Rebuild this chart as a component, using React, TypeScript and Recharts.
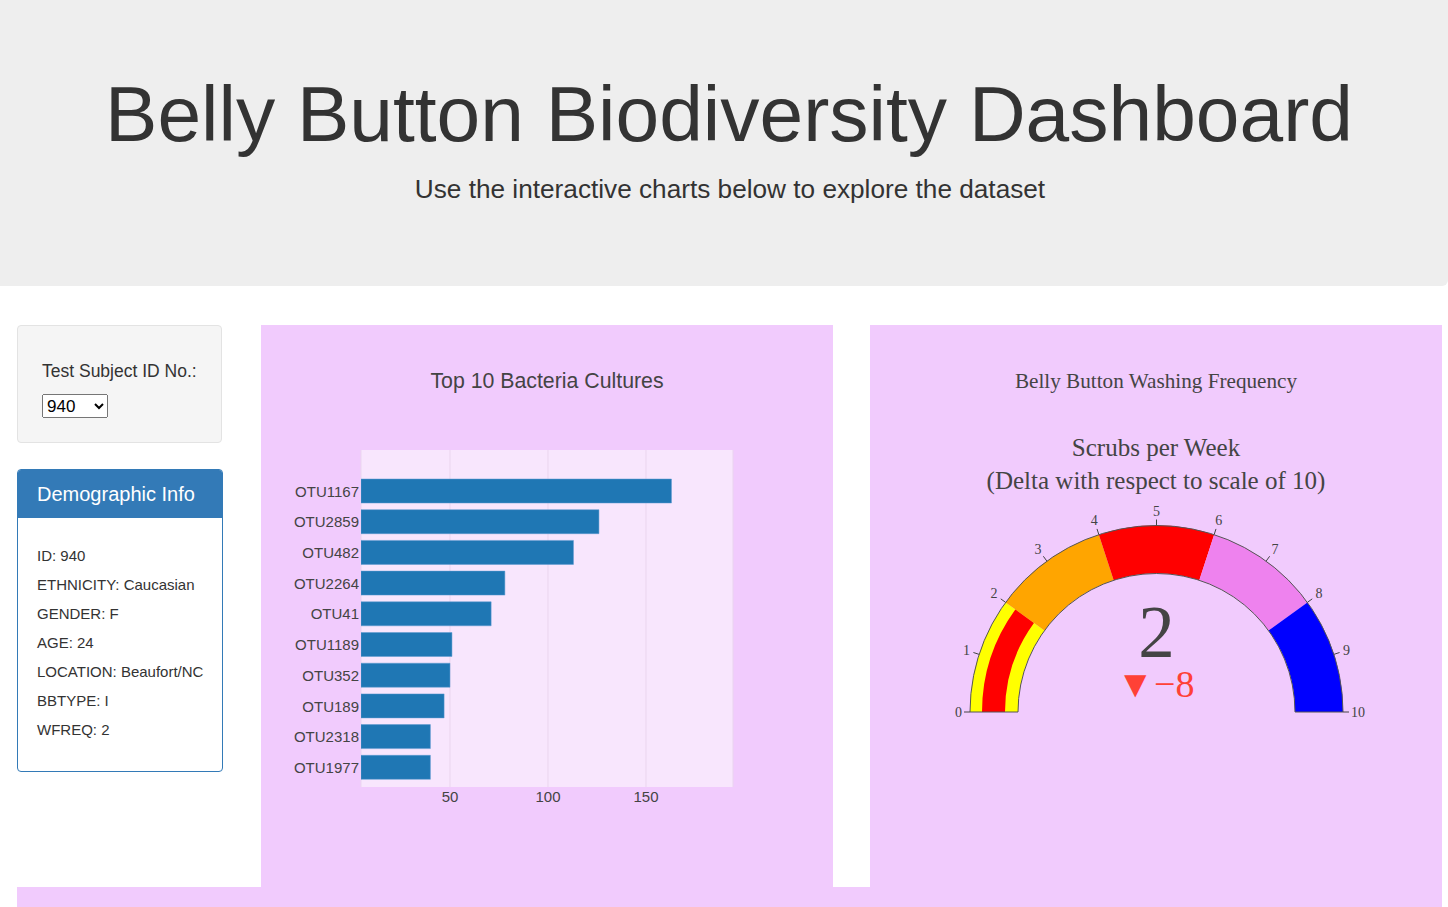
import React from 'react';
import {
  BarChart, Bar, XAxis, YAxis, CartesianGrid,
  PieChart, Pie, Cell, RadialBarChart, RadialBar, PolarAngleAxis,
} from 'recharts';

const otuLabels = ['OTU1167', 'OTU2859', 'OTU482', 'OTU2264', 'OTU41', 'OTU1189', 'OTU352', 'OTU189', 'OTU2318', 'OTU1977'];
const sampleValues = [163, 126, 113, 78, 71, 51, 50, 47, 40, 40];
const xTicks = [50, 100, 150];

const demoKeys = ['ID', 'ETHNICITY', 'GENDER', 'AGE', 'LOCATION', 'BBTYPE', 'WFREQ'];
const demoValues = ['940', 'Caucasian', 'F', '24', 'Beaufort/NC', 'I', '2'];

const wfreq = 2;
const gaugeMax = 10;
const gaugeTicks = [0, 1, 2, 3, 4, 5, 6, 7, 8, 9, 10];
const stepSizes = [2, 2, 2, 2, 2];
const stepColors = ['yellow', 'orange', 'red', 'violet', 'blue'];

const SANS = '"Liberation Sans", Arial, Helvetica, sans-serif';
const SERIF = '"Liberation Serif", "Times New Roman", serif';
const PINK = '#f1cbfd';
const NO_MARGIN = { top: 0, right: 0, bottom: 0, left: 0 };

const barData = otuLabels.map((otu, i) => ({ otu, value: sampleValues[i] }));
const stepData = stepSizes.map((v, i) => ({ name: `step${i}`, value: v }));
const valueData = [{ name: 'wfreq', value: wfreq }, { name: 'rest', value: gaugeMax - wfreq }];

// gauge geometry (inside its 572x562 panel)
const GW = 572;
const GH = 562;
const CX = 286.5;
const CY = 387;
const R_IN = 138.5;
const R_OUT = 186.5;

function GaugeTick(props: any) {
  const { x, y, payload } = props;
  const dx = x - CX;
  const dy = y - CY;
  const len = Math.sqrt(dx * dx + dy * dy) || 1;
  const ux = dx / len;
  const uy = dy / len;
  const label = String(payload.value);
  const w = label.length * 7;
  const h = 12;
  const ext = Math.abs(ux) * w / 2 + Math.abs(uy) * h / 2 + 2;
  return (
    <text
      x={x + ux * ext}
      y={y + uy * ext}
      textAnchor="middle"
      dominantBaseline="central"
      fontFamily={SERIF}
      fontSize={14}
      fill="#444"
    >
      {label}
    </text>
  );
}

export default function App() {
  return (
    <div style={{ position: 'relative', width: 1448, height: 907, overflow: 'hidden', background: '#fff', fontFamily: SANS, color: '#333' }}>
      <style>{'body{margin:0}'}</style>

      {/* jumbotron */}
      <div style={{ position: 'absolute', left: 0, top: 0, width: 1448, height: 286, background: '#eee', borderRadius: '0 0 6px 0' }} />
      <div style={{ position: 'absolute', left: 0, top: 64, width: 1458, textAlign: 'center', fontSize: 78.5, lineHeight: '100px', color: '#333' }}>
        Belly Button Biodiversity Dashboard
      </div>
      <div style={{ position: 'absolute', left: 0, top: 171, width: 1460, textAlign: 'center', fontSize: 26.2, lineHeight: '36px', color: '#333' }}>
        Use the interactive charts below to explore the dataset
      </div>

      {/* selector well */}
      <div style={{ position: 'absolute', left: 17, top: 325, width: 203, height: 116, background: '#f5f5f5', border: '1px solid #e3e3e3', borderRadius: 4 }} />
      <div style={{ position: 'absolute', left: 42, top: 360, fontSize: 17.5, lineHeight: '22px' }}>Test Subject ID No.:</div>
      <select
        defaultValue="940"
        style={{ position: 'absolute', left: 42, top: 394, width: 66, height: 24, fontSize: 17, fontFamily: SANS, padding: 0 }}
      >
        <option value="940">940</option>
      </select>

      {/* demographic panel */}
      <div style={{ position: 'absolute', left: 17, top: 469, width: 204, height: 301, border: '1px solid #337ab7', borderRadius: 4, overflow: 'hidden' }}>
        <div style={{ height: 48, background: '#337ab7', color: '#fff', fontSize: 20, lineHeight: '48px', paddingLeft: 19 }}>
          Demographic Info
        </div>
        <div style={{ paddingTop: 28, paddingLeft: 19, fontSize: 15 }}>
          {demoKeys.map((k, i) => (
            <div key={k} style={{ height: 29, lineHeight: '20px' }}>{`${k}: ${demoValues[i]}`}</div>
          ))}
        </div>
      </div>

      {/* bar chart panel */}
      <div style={{ position: 'absolute', left: 261, top: 325, width: 572, height: 562, background: PINK }}>
        <div style={{ position: 'absolute', left: 0, top: 44, width: 572, textAlign: 'center', fontSize: 21.3, lineHeight: '24px', color: '#444' }}>
          Top 10 Bacteria Cultures
        </div>
        <BarChart
          width={572}
          height={562}
          data={barData}
          layout="vertical"
          margin={{ top: 125, right: 100, bottom: 70, left: 20 }}
          barSize={24}
        >
          <CartesianGrid horizontal={false} fill="#f8e6fd" stroke="#ead5ef" strokeWidth={1} />
          <XAxis
            type="number"
            dataKey="value"
            domain={[4.6, 194.4]}
            ticks={xTicks}
            allowDataOverflow
            axisLine={false}
            tickLine={false}
            tickSize={0}
            tickMargin={4}
            height={30}
            tick={{ fontSize: 15, fill: '#444', fontFamily: SANS }}
          />
          <YAxis
            type="category"
            dataKey="otu"
            width={80}
            axisLine={false}
            tickLine={false}
            tickSize={0}
            tickMargin={2}
            padding={{ top: 26, bottom: 4 }}
            tick={{ fontSize: 15, fill: '#444', fontFamily: SANS }}
          />
          <Bar dataKey="value" fill="#1f77b4" stroke="#5d9bd0" strokeWidth={0.5} isAnimationActive={false} />
        </BarChart>
      </div>

      {/* gauge panel */}
      <div style={{ position: 'absolute', left: 870, top: 325, width: GW, height: GH, background: PINK }}>
        <div style={{ position: 'absolute', left: 0, top: 44, width: GW, textAlign: 'center', fontFamily: SERIF, fontSize: 21.2, lineHeight: '24px', color: '#444' }}>
          Belly Button Washing Frequency
        </div>
        <div style={{ position: 'absolute', left: 0, top: 106, width: GW, textAlign: 'center', fontFamily: SERIF, fontSize: 25, lineHeight: '33px', color: '#444' }}>
          Scrubs per Week
          <br />
          (Delta with respect to scale of 10)
        </div>

        <div style={{ position: 'absolute', left: 0, top: 0 }}>
          <PieChart width={GW} height={GH} margin={NO_MARGIN}>
            <Pie
              data={stepData}
              dataKey="value"
              cx={CX}
              cy={CY}
              startAngle={180}
              endAngle={0}
              innerRadius={R_IN}
              outerRadius={R_OUT}
              stroke="none"
              isAnimationActive={false}
            >
              {stepData.map((d, i) => (
                <Cell key={d.name} fill={stepColors[i]} />
              ))}
            </Pie>
            <Pie
              data={valueData}
              dataKey="value"
              cx={CX}
              cy={CY}
              startAngle={180}
              endAngle={0}
              innerRadius={151.5}
              outerRadius={174.5}
              stroke="none"
              isAnimationActive={false}
            >
              <Cell fill="red" />
              <Cell fill="transparent" />
            </Pie>
            <Pie
              data={[{ name: 'frame', value: gaugeMax }]}
              dataKey="value"
              cx={CX}
              cy={CY}
              startAngle={180}
              endAngle={0}
              innerRadius={R_IN}
              outerRadius={R_OUT}
              fill="none"
              stroke="#555"
              strokeWidth={1}
              isAnimationActive={false}
            />
          </PieChart>
        </div>

        <div style={{ position: 'absolute', left: 0, top: 0 }}>
          <RadialBarChart
            width={GW}
            height={GH}
            margin={NO_MARGIN}
            cx={CX}
            cy={CY}
            innerRadius={R_IN}
            outerRadius={R_OUT}
            startAngle={180}
            endAngle={0}
            data={[{ name: 'wfreq', value: wfreq }]}
          >
            <PolarAngleAxis
              type="number"
              domain={[0, gaugeMax]}
              ticks={gaugeTicks}
              axisLine={false}
              tickLine={{ stroke: '#444' }}
              tickSize={6}
              tick={GaugeTick}
            />
            <RadialBar dataKey="value" fill="none" isAnimationActive={false} />
          </RadialBarChart>
        </div>

        <svg width={GW} height={GH} style={{ position: 'absolute', left: 0, top: 0, pointerEvents: 'none' }}>
          <text x={CX} y={332} textAnchor="middle" fontFamily={SERIF} fontSize={73} fill="#444">{wfreq}</text>
          <text x={CX - 1} y={372} textAnchor="middle" fontFamily={SERIF} fontSize={38} fill="#FF4136">
            {`▼${(wfreq - gaugeMax).toString().replace('-', '−')}`}
          </text>
        </svg>
      </div>

      {/* lower panel */}
      <div style={{ position: 'absolute', left: 17, top: 887, width: 1425, height: 40, background: PINK }} />
    </div>
  );
}
